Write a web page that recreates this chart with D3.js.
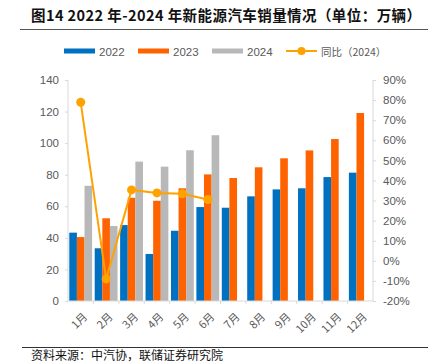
<!DOCTYPE html>
<html><head><meta charset="utf-8">
<script src="https://cdn.jsdelivr.net/npm/d3@7"></script>
<style>body{margin:0;background:#fff;} svg{display:block;}</style>
</head><body>
<svg id="c" width="436" height="362"></svg>
<script>
const months = ["1月","2月","3月","4月","5月","6月","7月","8月","9月","10月","11月","12月"];
const sales2022 = [43.3,33.4,48.1,29.8,44.5,59.5,59.1,66.3,70.7,71.4,78.5,81.3];
const sales2023 = [40.5,52.4,65.4,63.5,71.4,80.2,77.9,84.7,90.4,95.4,102.6,119.1];
const sales2024 = [73.0,47.5,88.3,85.1,95.5,105.0,null,null,null,null,null,null];
const yoy2024 = [78.9,-9.0,35.3,33.8,33.4,30.5,null,null,null,null,null,null];
const leftTicks = [0,20,40,60,80,100,120,140];
const rightTicks = [-20,-10,0,10,20,30,40,50,60,70,80,90];
const seriesNames = ["2022","2023","2024","同比（2024）"];
const colors = ["#0070c0","#ff6300","#b8b8b8","#ffa200"];

const svg = d3.select("#c");
const font = "'Liberation Sans', Arial, 'Noto Sans CJK SC', sans-serif";
const L = 68, R = 373, T = 80, B = 301;

svg.append("text").attr("x",31).attr("y",21).attr("font-family","'Noto Sans CJK SC', sans-serif")
  .attr("font-weight","bold").attr("font-size",14.5).attr("fill","#111")
  .attr("textLength",390).attr("lengthAdjust","spacing")
  .text("图14 2022 年-2024 年新能源汽车销量情况（单位：万辆）");
svg.append("line").attr("x1",20).attr("x2",428).attr("y1",29.5).attr("y2",29.5).attr("stroke","#555").attr("stroke-width",1);

const x = d3.scaleBand().domain(months).range([L,R]).paddingInner(0).paddingOuter(0);
const sub = d3.scaleBand().domain([0,1,2]).range([0,x.bandwidth()]).paddingInner(0).paddingOuter(0.17);
const y = d3.scaleLinear().domain([0,140]).range([B,T]);
const y2 = d3.scaleLinear().domain([-20,90]).range([B,T]);

// axes
const axL = svg.append("g").attr("transform",`translate(${L},0)`).call(d3.axisLeft(y).tickValues(leftTicks).tickSize(3).tickPadding(6));
const axR = svg.append("g").attr("transform",`translate(${R},0)`).call(d3.axisRight(y2).tickValues(rightTicks).tickSize(3).tickPadding(7).tickFormat(d=>d+"%"));
[axL,axR].forEach(a=>{
  a.selectAll("path,line").attr("stroke","#d9d9d9");
  a.select(".domain").attr("d", `M0,${T}V${B}`);
  a.selectAll("text").attr("fill","#595959").attr("font-size",11.5).attr("font-family",font);
});

// bars
const series = [sales2022,sales2023,sales2024];
series.forEach((vals,si)=>{
  svg.append("g").selectAll("rect").data(months.map((m,i)=>({m,v:vals[i]})).filter(d=>d.v!=null))
    .join("rect")
    .attr("x",d=>x(d.m)+sub(si)).attr("width",sub.bandwidth())
    .attr("y",d=>y(d.v)).attr("height",d=>B-y(d.v))
    .attr("fill",colors[si]);
});

// bottom axis
const axB = svg.append("g").attr("transform",`translate(0,${B})`).call(d3.axisBottom(x).tickSize(0).tickFormat(""));
axB.select(".domain").attr("stroke","#d9d9d9").attr("d",`M${L},0H${R}`);
svg.append("g").selectAll("line").data(months.slice(1)).join("line")
  .attr("x1",d=>x(d)).attr("x2",d=>x(d)).attr("y1",B).attr("y2",B+3).attr("stroke","#d9d9d9");
svg.append("g").selectAll("text").data(months).join("text")
  .attr("transform",d=>`translate(${x(d)+x.bandwidth()/2+2},${B+11}) rotate(-45)`)
  .attr("text-anchor","end").attr("dy","0.7em").attr("font-size",11).attr("fill","#595959")
  .attr("font-family","'Noto Sans CJK SC', sans-serif").text(d=>d);

// line
const pts = months.map((m,i)=>({m,v:yoy2024[i]})).filter(d=>d.v!=null);
const line = d3.line().x(d=>x(d.m)+x.bandwidth()/2).y(d=>y2(d.v));
svg.append("path").datum(pts).attr("d",line).attr("fill","none").attr("stroke",colors[3]).attr("stroke-width",2);
svg.append("g").selectAll("circle").data(pts).join("circle")
  .attr("cx",d=>x(d.m)+x.bandwidth()/2).attr("cy",d=>y2(d.v)).attr("r",4.5).attr("fill",colors[3]);

// legend
const lg = svg.append("g");
const lx = [64,138,212,286];
seriesNames.forEach((n,i)=>{
  if(i<3){
    lg.append("rect").attr("x",lx[i]).attr("y",48.5).attr("width",31).attr("height",5).attr("fill",colors[i]);
  } else {
    lg.append("line").attr("x1",lx[i]).attr("x2",lx[i]+31).attr("y1",51).attr("y2",51).attr("stroke",colors[3]).attr("stroke-width",2);
    lg.append("circle").attr("cx",lx[i]+15.5).attr("cy",51).attr("r",4).attr("fill",colors[3]);
  }
  lg.append("text").attr("x",lx[i]+35).attr("y",55.5).attr("font-size",i<3?11.5:10.5).attr("fill","#595959")
    .attr("font-family", i<3?font:"'Noto Sans CJK SC', sans-serif").text(n);
});

// footer
svg.append("line").attr("x1",22).attr("x2",428).attr("y1",347.5).attr("y2",347.5).attr("stroke","#333").attr("stroke-width",1);
svg.append("text").attr("x",31).attr("y",360).attr("font-size",12).attr("fill","#111")
  .attr("font-family","'Noto Sans CJK SC', sans-serif").text("资料来源：中汽协，联储证券研究院");
</script>
</body></html>
